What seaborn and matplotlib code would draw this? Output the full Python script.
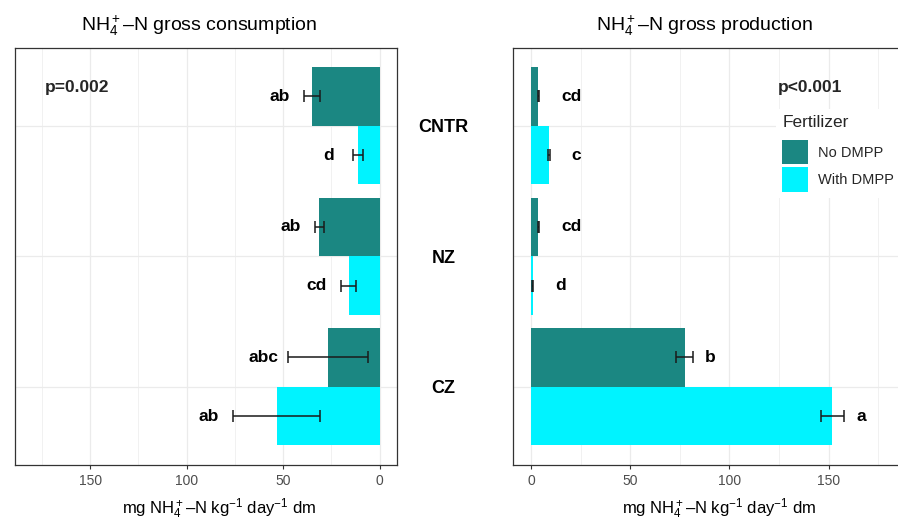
import numpy as np
import pandas as pd
import matplotlib
matplotlib.use("Agg")
import matplotlib.pyplot as plt
from matplotlib.ticker import MultipleLocator
import seaborn as sns

# ---------------- data ----------------
treatments = ["CNTR", "NZ", "CZ"]
fertilizer = ["No DMPP", "With DMPP"]

consumption_no = [35.0, 31.2, 26.8]
consumption_with = [11.2, 16.1, 53.4]
consumption_se_no = [4.2, 2.2, 20.6]
consumption_se_with = [2.6, 3.9, 22.6]
consumption_letters_no = ["ab", "ab", "abc"]
consumption_letters_with = ["d", "cd", "ab"]

production_no = [3.7, 3.7, 77.4]
production_with = [9.0, 0.7, 151.9]
production_se_no = [0.3, 0.3, 4.2]
production_se_with = [0.3, 0.2, 6.0]
production_letters_no = ["cd", "cd", "b"]
production_letters_with = ["c", "d", "a"]

p_consumption = "p=0.002"
p_production = "p<0.001"

colors = {"No DMPP": "#1b8782", "With DMPP": "#00f3ff"}

# ---------------- style ----------------
sns.set_theme(style="white")
plt.rcParams["font.family"] = ["Liberation Sans", "DejaVu Sans"]
plt.rcParams["mathtext.fontset"] = "custom"
plt.rcParams["mathtext.rm"] = "Liberation Sans"
plt.rcParams["mathtext.it"] = "Liberation Sans:italic"
plt.rcParams["mathtext.bf"] = "Liberation Sans:bold"


def make_df(no, wi, se_no, se_wi, let_no, let_wi):
    rows = []
    for i, t in enumerate(treatments):
        rows.append(dict(Treatment=t, Fertilizer="No DMPP", value=no[i], se=se_no[i], letter=let_no[i]))
        rows.append(dict(Treatment=t, Fertilizer="With DMPP", value=wi[i], se=se_wi[i], letter=let_wi[i]))
    return pd.DataFrame(rows)


df_c = make_df(consumption_no, consumption_with, consumption_se_no,
               consumption_se_with, consumption_letters_no, consumption_letters_with)
df_p = make_df(production_no, production_with, production_se_no,
               production_se_with, production_letters_no, production_letters_with)

W, H = 898, 520
fig = plt.figure(figsize=(W / 100, H / 100), dpi=100)
fig.patch.set_facecolor("white")

top_px, bot_px = 47.5, 465
axL = fig.add_axes([15 / W, 1 - bot_px / H, (397 - 15) / W, (bot_px - top_px) / H])
axR = fig.add_axes([513.3 / W, 1 - bot_px / H, (906 - 513.3) / W, (bot_px - top_px) / H])

xlabel = "mg NH$_4^+$–N kg$^{-1}$ day$^{-1}$ dm"
grid_c = "#ebebeb"


def draw(ax, df, side):
    sns.barplot(data=df, y="Treatment", x="value", hue="Fertilizer",
                order=treatments, hue_order=fertilizer, palette=colors,
                saturation=1, width=0.9, errorbar=None, orient="h", linewidth=0,
                legend=(side == "right"), ax=ax)
    # error bars and letters from the bar containers
    for level, cont in zip(fertilizer, ax.containers):
        sub = df[df["Fertilizer"] == level].set_index("Treatment").loc[treatments]
        for bar, (_, r) in zip(cont.patches, sub.iterrows()):
            yc = bar.get_y() + bar.get_height() / 2
            ax.errorbar(r["value"], yc, xerr=r["se"], fmt="none", ecolor="#1a1a1a",
                        elinewidth=1.1, capsize=4.5, capthick=1.1, zorder=4)
            end = r["value"] + r["se"]
            if side == "left":
                ax.annotate(r["letter"], (end, yc), xytext=(-17.5, 0), textcoords="offset points",
                            ha="center", va="center", fontsize=12.5, fontweight="bold", color="black")
            else:
                off = 16 if r["value"] < 20 else 8.5
                ax.annotate(r["letter"], (end, yc), xytext=(off, 0), textcoords="offset points",
                            ha="left", va="center", fontsize=12.5, fontweight="bold", color="black")
    ax.set_ylim(2.6, -0.6)
    ax.xaxis.set_major_locator(MultipleLocator(50))
    ax.xaxis.set_minor_locator(MultipleLocator(25))
    ax.set_axisbelow(True)
    ax.grid(True, which="major", axis="both", color=grid_c, linewidth=0.9)
    ax.grid(True, which="minor", axis="x", color=grid_c, linewidth=0.5)
    for s in ax.spines.values():
        s.set_color("#333333")
        s.set_linewidth(0.9)
    ax.tick_params(axis="x", which="major", length=2.75, width=0.8, color="#333333",
                   labelsize=10, labelcolor="#4d4d4d", pad=3.5, bottom=True)
    ax.tick_params(axis="x", which="minor", length=0)
    ax.set_xlabel("")
    ax.set_ylabel("")


draw(axL, df_c, "left")
draw(axR, df_p, "right")

axL.set_xlim(189, -9)
axR.set_xlim(-9, 189)

# category labels between panels
axL.yaxis.tick_right()
axL.tick_params(axis="y", length=0, pad=33.5, labelsize=13, labelcolor="black")
for lab in axL.get_yticklabels():
    lab.set_fontweight("bold")
    lab.set_ha("center")
axR.tick_params(axis="y", length=0, labelleft=False)

# titles
axL.text(0.482, 1.0395, "NH$_4^+$–N gross consumption", transform=axL.transAxes,
         ha="center", va="baseline", fontsize=14, color="black")
axR.text(0.487, 1.0395, "NH$_4^+$–N gross production", transform=axR.transAxes,
         ha="center", va="baseline", fontsize=14, color="black")

# x labels
fig.text(219 / W, 1 - 513.5 / H, xlabel, ha="center", va="baseline", fontsize=12, color="black")
fig.text(719 / W, 1 - 513.5 / H, xlabel, ha="center", va="baseline", fontsize=12, color="black")

# p values
axL.text(0.0785, 0.905, p_consumption, transform=axL.transAxes, ha="left", va="center",
         fontsize=12.5, fontweight="bold")
axR.text(0.673, 0.905, p_production, transform=axR.transAxes, ha="left", va="center",
         fontsize=12.5, fontweight="bold")

# legend
handles, labels = axR.get_legend_handles_labels()
axR.get_legend().remove()
leg = axR.legend(handles, labels, title="Fertilizer", loc="upper left",
                 bbox_to_anchor=(769 / W, 1 - 102 / H), bbox_transform=fig.transFigure,
                 frameon=True, facecolor="white", edgecolor="white", framealpha=1,
                 fontsize=10.5, title_fontsize=12.5, handlelength=1.75, handleheight=2.2,
                 labelspacing=0.21, handletextpad=0.7, borderpad=0.4, alignment="left",
                 fancybox=False)
leg.get_frame().set_linewidth(0)
leg._legend_box.sep = 7.0  # gap between legend title and keys (points)

fig.savefig("out.png", dpi=100, facecolor="white")
